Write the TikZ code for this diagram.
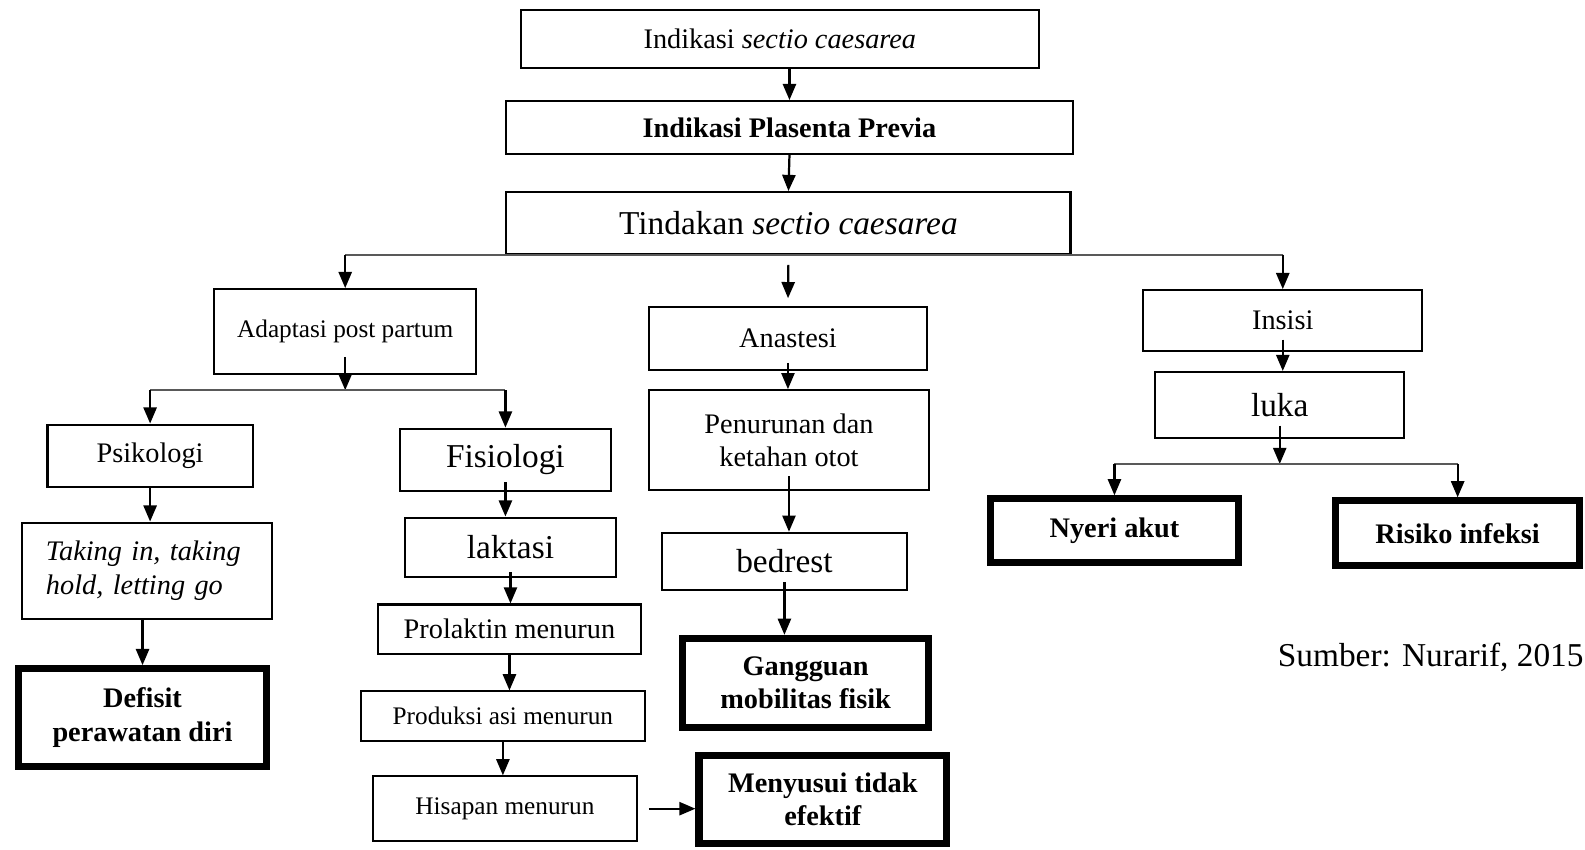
\documentclass[tikz,border=0pt]{standalone}
\usepackage{fontspec}
\setmainfont{Liberation Serif}
\usetikzlibrary{arrows.meta}

\begin{document}
\begin{tikzpicture}[x=0.5pt, y=-0.5pt,
  font=\fontsize{14}{16.5}\selectfont,
  box/.style={draw, line width=1pt, fill=white, align=center, inner sep=2pt},
  dx/.style={box, line width=3.5pt, font=\fontsize{14}{16.5}\selectfont\bfseries},
  sm/.style={font=\fontsize{12.5}{15}\selectfont},
  lg/.style={font=\fontsize{16.5}{19}\selectfont},
  arr/.style={-{Triangle[length=8pt, width=6.5pt]}, line width=1.1pt},
  branch/.style={line width=0.8pt, black!65}]

  \useasboundingbox (0,0) rectangle (1568,840);

  % top chain
  \node[box, minimum width=256.5pt, minimum height=28.5pt] (ind) at (771.5,38.5)
    {Indikasi \textit{sectio caesarea}};
  \node[box, minimum width=280pt, minimum height=26pt,
    font=\fontsize{14}{16.5}\selectfont\bfseries] (pp) at (781,126)
    {Indikasi Plasenta Previa};
  \node[box, lg, minimum width=279pt, minimum height=30.5pt] (sc) at (780,220.5)
    {Tindakan \textit{sectio caesarea}};

  % adaptasi branch
  \node[box, sm, minimum width=129.5pt, minimum height=42pt] (adapt) at (341.5,328)
    {Adaptasi post partum};
  \node[box, minimum width=101.5pt, minimum height=31pt] (psi) at (148.5,451) {Psikologi};
  \node[box, align=left, text width=100pt, inner xsep=12pt, minimum height=47.5pt,
    font=\fontsize{14}{16.5}\selectfont\itshape] (tak) at (145.5,564.5)
    {Taking in, taking\\hold, letting go};
  \node[dx, minimum width=122.5pt, minimum height=48.5pt] (def) at (141,710)
    {Defisit\\perawatan diri};

  \node[box, lg, minimum width=104pt, minimum height=31pt] (fis) at (500,455) {Fisiologi};
  \node[box, lg, minimum width=104pt, minimum height=29.5pt] (lak) at (505,541.5) {laktasi};
  \node[box, minimum width=130pt, minimum height=24.5pt] (pro) at (504,622.5)
    {Prolaktin menurun};
  \node[box, sm, minimum width=140.5pt, minimum height=24.5pt] (prd) at (497.5,708.5)
    {Produksi asi menurun};
  \node[box, sm, minimum width=130.5pt, minimum height=32pt] (his) at (499.5,800)
    {Hisapan menurun};
  \node[dx, minimum width=122.5pt, minimum height=43.5pt] (mny) at (814,791)
    {Menyusui tidak\\efektif};

  % anastesi branch
  \node[box, minimum width=137.5pt, minimum height=31pt] (ana) at (779.5,335) {Anastesi};
  \node[box, minimum width=138.5pt, minimum height=49.5pt] (pen) at (780.5,435.5)
    {Penurunan dan\\ketahan otot};
  \node[box, lg, minimum width=121pt, minimum height=28.5pt] (bed) at (776,555.5) {bedrest};
  \node[dx, minimum width=121.5pt, minimum height=44pt] (gan) at (797,675.5)
    {Gangguan\\mobilitas fisik};

  % insisi branch
  \node[box, minimum width=138pt, minimum height=30pt] (ins) at (1269,317) {Insisi};
  \node[box, lg, minimum width=123pt, minimum height=32.5pt] (luk) at (1266,400.5) {luka};
  \node[dx, minimum width=123pt, minimum height=31.5pt] (nye) at (1102.5,525) {Nyeri akut};
  \node[dx, minimum width=120.5pt, minimum height=32pt] (ris) at (1442,527.5) {Risiko infeksi};

  \node[lg, anchor=east, inner sep=0pt] (src) at (1567,650) {Sumber: Nurarif, 2015};

  % connectors
  \draw[arr] (pp.north |- ind.south) -- (pp.north);
  \draw[arr] (pp.south) -- (sc.north);
  \draw[branch] (adapt.north |- sc.south) -- (ins.north |- sc.south);
  \draw[arr] (adapt.north |- sc.south) -- (adapt.north);
  \draw[arr, shorten <=5pt, shorten >=4pt] (sc.south) -- (ana.north);
  \draw[arr] (ins.north |- sc.south) -- (ins.north);

  \coordinate (aj) at ([yshift=-7.5pt]adapt.south);
  \draw[arr] ([yshift=9pt]adapt.south) -- (aj);
  \draw[branch] (psi.north |- aj) -- (fis.north |- aj);
  \draw[arr] (psi.north |- aj) -- (psi.north);
  \draw[arr] (fis.north |- aj) -- (fis.north);
  \draw[arr] (psi.south) -- (psi.south |- tak.north);
  \draw[arr] (def.north |- tak.south) -- (def.north);

  \draw[arr] ([yshift=5pt]fis.south) -- (fis.south |- lak.north);
  \draw[arr] ([yshift=3pt]lak.south) -- (lak.south |- pro.north);
  \draw[arr] (pro.south) -- (pro.south |- prd.north);
  \draw[arr] (prd.south) -- (prd.south |- his.north);
  \draw[arr, shorten <=5.5pt] (his.east) -- (his.east -| mny.west);

  \draw[arr] ([yshift=4pt]ana.south) -- (ana.south |- pen.north);
  \draw[arr] ([yshift=7.5pt]pen.south) -- (pen.south |- bed.north);
  \draw[arr] ([yshift=4.5pt]bed.south) -- (bed.south |- gan.north);

  \draw[arr] ([yshift=6pt]ins.south) -- (ins.south |- luk.north);
  \coordinate (lj) at ([yshift=-12.5pt]luk.south);
  \draw[arr] ([yshift=6.5pt]luk.south) -- (lj);
  \draw[branch] (nye.north |- lj) -- (ris.north |- lj);
  \draw[arr] (nye.north |- lj) -- (nye.north);
  \draw[arr] (ris.north |- lj) -- (ris.north);
\end{tikzpicture}
\end{document}
